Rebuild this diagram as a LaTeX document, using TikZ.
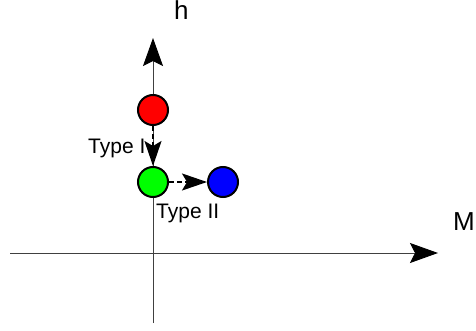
\documentclass[tikz,border=0pt]{standalone}
\usepackage{fontspec}
\setmainfont{Liberation Sans}
\usetikzlibrary{arrows.meta,positioning}
\tikzset{
	state/.style={draw, circle, line width=2pt, minimum size=30pt, inner sep=0pt},
	axis/.style={-{Stealth[length=28pt, width=20pt, inset=5pt, color=black]}, draw=black!75, line width=0.9pt},
	jump/.style={-{Stealth[length=25pt, width=17pt, inset=5pt]}, dash pattern=on 5pt off 3pt, line width=1.8pt},
	axislabel/.style={anchor=base west, inner sep=0pt, font=\fontsize{26}{30}\selectfont},
	typelabel/.style={anchor=base west, inner sep=0pt, font=\fontsize{21}{24}\selectfont}
}
\begin{document}
\begin{tikzpicture}[x=1pt, y=1pt]
	\useasboundingbox (0,0) rectangle (476,330);
	\coordinate (hlow) at (153,7);
	\coordinate (htop) at (153,292);
	\coordinate (mleft) at (10,77);
	\coordinate (mright) at (438,77);
	\draw[axis] (hlow) -- (htop);
	\draw[axis] (mleft) -- (mright);
	\node[axislabel] (hlab) at (174,310) {h};
	\node[axislabel] (mlab) at (453,100) {M};
	\node[state, fill=red] (start) at (153,220) {};
	\node[state, fill=green] (mid) at (153,148) {};
	\node[state, fill=blue] (stop) at (223,148) {};
	\draw[jump] (start) -- (mid);
	\draw[jump] (mid) -- (stop);
	\node[typelabel] (typeone) at (88,177) {Type I};
	\node[typelabel] (typetwo) at (156,112) {Type II};
\end{tikzpicture}
\end{document}
